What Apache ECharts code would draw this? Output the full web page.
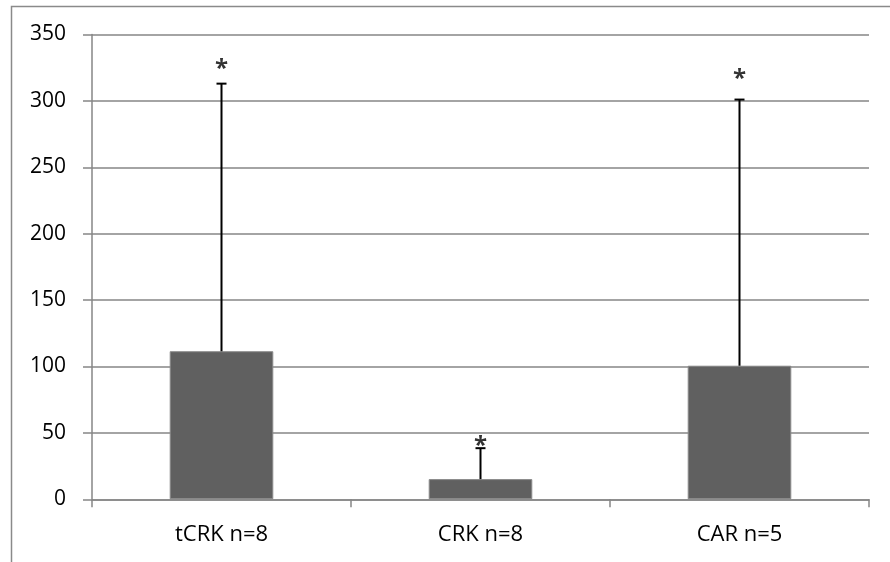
<!DOCTYPE html>
<html><head><meta charset="utf-8">
<script src="https://cdn.jsdelivr.net/npm/echarts@6/dist/echarts.min.js"></script>
<style>html,body{margin:0;padding:0;background:#fff}#c{width:890px;height:562px}</style>
</head><body><div id="c"></div>
<script>
const categories = ['tCRK n=8', 'CRK n=8', 'CAR n=5'];
const means = [111.5, 15.2, 100.6];
const errorTops = [313, 38.5, 301];
const starValues = [326, 42, 319];
const yTicks = [0, 50, 100, 150, 200, 250, 300, 350];

const chart = echarts.init(document.getElementById('c'), null, {renderer: 'canvas'});
const FONT = 'Open Sans';
chart.setOption({
  animation: false,
  backgroundColor: '#fff',
  graphic: [{
    type: 'rect', left: 9, top: 4, shape: {x: 0, y: 0, width: 900, height: 600},
    style: {fill: 'none', stroke: '#8a8a8a', lineWidth: 1.5}, z: 100
  }],
  grid: {left: 92, right: 21, top: 34.5, bottom: 62.7, containLabel: false},
  xAxis: {
    type: 'category', data: categories, boundaryGap: true,
    axisLine: {lineStyle: {color: '#868686', width: 1.5}},
    axisTick: {show: true, length: 8, interval: 0, lineStyle: {color: '#868686', width: 1.5}},
    axisLabel: {color: '#000', fontFamily: FONT, fontSize: 22, margin: 24}
  },
  yAxis: {
    type: 'value', min: yTicks[0], max: yTicks[yTicks.length - 1], interval: 50,
    axisLine: {show: true, lineStyle: {color: '#868686', width: 1.5}},
    axisTick: {show: true, length: 9, lineStyle: {color: '#868686', width: 1.5}},
    splitLine: {lineStyle: {color: '#868686', width: 1.5}},
    axisLabel: {color: '#000', fontFamily: FONT, fontSize: 21, margin: 26}
  },
  series: [
    {
      type: 'bar', data: means, barWidth: '40%',
      itemStyle: {color: '#606060', borderColor: '#8a8a8a', borderWidth: 1}
    },
    {
      type: 'custom',
      data: means.map((m, i) => [i, m, errorTops[i]]),
      renderItem: function (params, api) {
        const base = api.coord([api.value(0), api.value(1)]);
        const top = api.coord([api.value(0), api.value(2)]);
        const cap = 5;
        return {
          type: 'group', children: [
            {type: 'line', shape: {x1: base[0], y1: base[1], x2: top[0], y2: top[1]},
             style: {stroke: '#000', lineWidth: 2}},
            {type: 'line', shape: {x1: top[0] - cap, y1: top[1], x2: top[0] + cap, y2: top[1]},
             style: {stroke: '#000', lineWidth: 2}}
          ]
        };
      },
      z: 10
    },
    {
      type: 'scatter', symbolSize: 0,
      data: starValues.map((v, i) => [i, v]),
      label: {show: true, position: 'inside', formatter: '*', color: '#000',
        fontFamily: FONT, fontSize: 24, fontWeight: 'bold', offset: [0, 3]},
      z: 11
    }
  ]
});
</script></body></html>
